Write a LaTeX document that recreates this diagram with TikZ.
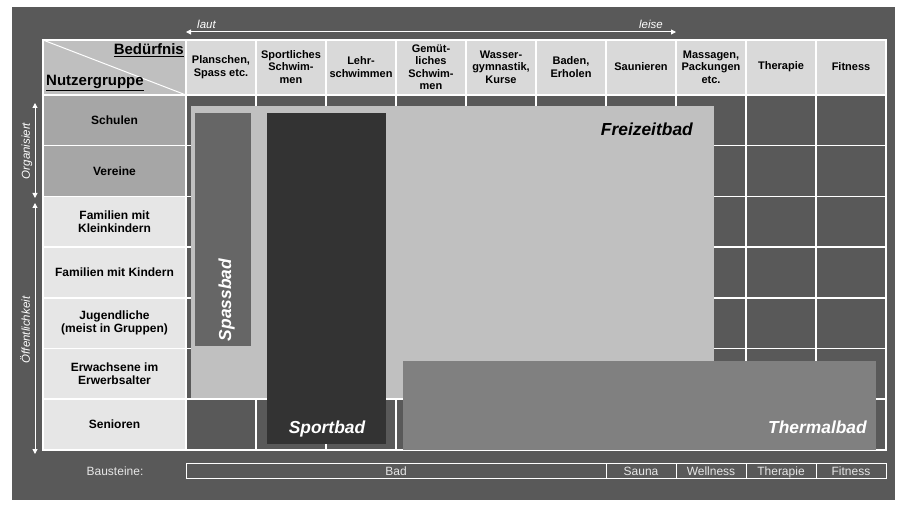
\documentclass[tikz,border=0pt]{standalone}
\usepackage{fontspec}
\setmainfont{Liberation Sans}
\usetikzlibrary{arrows.meta}

\definecolor{bgdark}{RGB}{89,89,89}
\definecolor{cornergray}{RGB}{191,191,191}
\definecolor{headgray}{RGB}{217,217,217}
\definecolor{orggray}{RGB}{166,166,166}
\definecolor{pubgray}{RGB}{230,230,230}
\definecolor{freizeitgray}{RGB}{192,192,192}
\definecolor{spassgray}{RGB}{102,102,102}
\definecolor{sportgray}{RGB}{51,51,51}
\definecolor{thermalgray}{RGB}{128,128,128}
\definecolor{lighttext}{RGB}{230,230,230}

\tikzset{
  gridline/.style={white, line width=1.5pt},
  whitearrow/.style={white, line width=1pt, {Triangle[length=5pt,width=5pt]}-{Triangle[length=5pt,width=5pt]}},
  colhead/.style={font=\bfseries\fontsize{11}{12.5}\selectfont, align=center, inner sep=0pt},
  rowhead/.style={font=\bfseries\fontsize{12}{13}\selectfont, align=center, inner sep=0pt},
  cornerlabel/.style={font=\bfseries\fontsize{15}{15}\selectfont, inner sep=0pt},
  badlabel/.style={font=\bfseries\itshape\fontsize{17.4}{17.4}\selectfont, inner sep=0pt},
  axislabel/.style={font=\itshape\fontsize{11.5}{11.5}\selectfont, text=white, inner sep=0pt},
  bausteinbox/.style={draw=white, line width=1pt, text=lighttext, font=\fontsize{12}{12}\selectfont,
    minimum height=15pt, text height=10pt, text depth=0pt, inner sep=0pt, outer sep=0pt, anchor=west}
}

\begin{document}
\begin{tikzpicture}[x=1pt,y=-1pt]
\useasboundingbox (0,0) rectangle (898,508);
\fill[white] (0,0) rectangle (898,508);
\fill[bgdark] (12,7) rectangle (895,500);

% table cells
\fill[cornergray] (43,40) rectangle (186,95);
\fill[headgray] (186,40) rectangle (886,95);
\fill[orggray] (43,95) rectangle (186,196.4);
\fill[pubgray] (43,196.4) rectangle (186,450);

% grid
\draw[gridline] (186,40) -- (186,450);
\draw[gridline] (256,40) -- (256,450);
\draw[gridline] (326,40) -- (326,450);
\draw[gridline] (396,40) -- (396,450);
\draw[gridline] (466,40) -- (466,450);
\draw[gridline] (536,40) -- (536,450);
\draw[gridline] (606,40) -- (606,450);
\draw[gridline] (676,40) -- (676,450);
\draw[gridline] (746,40) -- (746,450);
\draw[gridline] (816,40) -- (816,450);
\draw[gridline] (43,95) -- (886,95);
\draw[gridline] (43,145.7) -- (886,145.7);
\draw[gridline] (43,196.4) -- (886,196.4);
\draw[gridline] (43,247.1) -- (886,247.1);
\draw[gridline] (43,297.8) -- (886,297.8);
\draw[gridline] (43,348.5) -- (886,348.5);
\draw[gridline] (43,399.2) -- (886,399.2);
\draw[gridline, line width=2pt] (43,40) rectangle (886,450);
\draw[white, line width=1pt] (43,40) -- (186,95);

% corner labels
\node[cornerlabel, anchor=base east] (bedarf) at (184,55) {\underline{Bedürfnis}};
\node[cornerlabel, anchor=base west] (nutzer) at (46,86) {\underline{Nutzergruppe}};

% column heads
\node[colhead] (planschen) at (221,67) {Planschen,\\Spass etc.};
\node[colhead] (sportlich) at (291,67) {Sportliches\\Schwim-\\men};
\node[colhead] (lehr) at (361,67) {Lehr-\\schwimmen};
\node[colhead] (gemuet) at (431,67) {Gemüt-\\liches\\Schwim-\\men};
\node[colhead] (wasser) at (501,67) {Wasser-\\gymnastik,\\Kurse};
\node[colhead] (baden) at (571,67) {Baden,\\Erholen};
\node[colhead] (saunieren) at (641,67) {Saunieren};
\node[colhead] (massage) at (711,67) {Massagen,\\Packungen\\etc.};
\node[colhead] (therapiehead) at (781,67) {Therapie};
\node[colhead] (fitnesshead) at (851,67) {Fitness};

% row heads
\node[rowhead] (schulen) at (114.5,120.4) {Schulen};
\node[rowhead] (vereine) at (114.5,171.1) {Vereine};
\node[rowhead] (klein) at (114.5,221.8) {Familien mit\\Kleinkindern};
\node[rowhead] (kinder) at (114.5,272.5) {Familien mit Kindern};
\node[rowhead] (jugend) at (114.5,323.2) {Jugendliche\\(meist in Gruppen)};
\node[rowhead] (erwachsen) at (114.5,373.9) {Erwachsene im\\Erwerbsalter};
\node[rowhead] (senioren) at (114.5,424.6) {Senioren};

% bath types
\fill[freizeitgray] (191,106) rectangle (714,398);
\fill[spassgray] (195,113) rectangle (251,346);
\fill[sportgray] (267,113) rectangle (386,444);
\fill[thermalgray] (403,361) rectangle (876,450);
\node[badlabel, anchor=base east] (freizeit) at (693,136) {Freizeitbad};
\node[badlabel, text=white, rotate=90, anchor=base] (spass) at (231,300) {Spassbad};
\node[badlabel, text=white, anchor=base] (sport) at (327,433) {Sportbad};
\node[badlabel, text=white, anchor=base east] (thermal) at (867,433) {Thermalbad};

% laut / leise
\coordinate (lautend) at (186,32);
\coordinate (leiseend) at (676,32);
\draw[whitearrow] (lautend) -- (leiseend);
\node[axislabel, anchor=base west] (laut) at (197,29) {laut};
\node[axislabel, anchor=base east] (leise) at (663,29) {leise};

% organisiert / oeffentlichkeit
\coordinate (orgtop) at (35,103);
\coordinate (orgbot) at (35,198);
\coordinate (pubtop) at (35,203);
\coordinate (pubbot) at (35,454);
\draw[whitearrow] (orgtop) -- (orgbot);
\draw[whitearrow] (pubtop) -- (pubbot);
\node[axislabel, rotate=90, anchor=base] (organisiert) at (30,151) {Organisiert};
\node[axislabel, rotate=90, anchor=base] (oeffentlich) at (30,330) {Öffentlichkeit};

% bausteine
\node[text=lighttext, font=\fontsize{12}{12}\selectfont, anchor=base] (bausteine) at (115,475.5) {Bausteine:};
\node[bausteinbox, minimum width=420pt] (bad) at (186,470.5) {Bad};
\node[bausteinbox, minimum width=70pt] (sauna) at (bad.east) {Sauna};
\node[bausteinbox, minimum width=70pt] (wellness) at (sauna.east) {Wellness};
\node[bausteinbox, minimum width=70pt] (therapie) at (wellness.east) {Therapie};
\node[bausteinbox, minimum width=70pt] (fitness) at (therapie.east) {Fitness};
\end{tikzpicture}
\end{document}
